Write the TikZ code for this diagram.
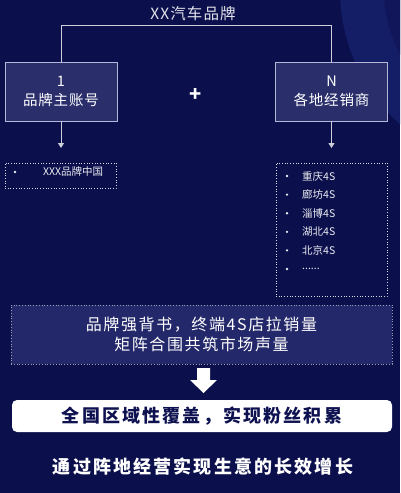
\documentclass[tikz,border=0pt]{standalone}
\usepackage{fontspec}
\setmainfont{Noto Sans CJK SC}
\usetikzlibrary{arrows.meta}
\definecolor{bg}{HTML}{0B0F4C}
\definecolor{band}{HTML}{141E66}
\definecolor{boxfill}{HTML}{2A2F6C}
\definecolor{bigfill}{HTML}{23286A}
\definecolor{edge}{HTML}{B4B8D6}
\definecolor{navytext}{HTML}{0E1250}
\newcommand{\myls}[1]{\addfontfeatures{LetterSpace=#1}}
\tikzset{
  headbox/.style={draw=edge, line width=0.8pt, fill=boxfill, text=white,
    minimum width=112pt, minimum height=59pt, inner sep=0pt, align=center,
    font=\fontsize{14.5}{19}\selectfont\myls{6}},
  listbox/.style={draw=white!85!bg, dotted, line width=0.7pt, inner sep=0pt},
  bigbox/.style={draw=white!60!bg, dotted, line width=0.8pt, fill=bigfill, text=white,
    minimum width=381pt, minimum height=59pt, inner sep=0pt, align=center,
    font=\fontsize{16}{20}\selectfont\myls{10}},
  connector/.style={draw=white!80!bg, line width=0.8pt},
  arrowline/.style={connector, -{Triangle[length=5pt,width=6pt]}},
  itemtext/.style={text=white!92!bg, anchor=west, inner sep=0pt, font=\fontsize{10.5}{12}\selectfont},
  bulletdot/.style={circle, fill=white!92!bg, inner sep=0pt, minimum size=2.6pt},
}
\begin{document}
\begin{tikzpicture}[x=1pt,y=-1pt]
\fill[bg] (0,0) rectangle (400,493);
\useasboundingbox (0,0) rectangle (400,493);
\begin{scope}
  \clip (0,0) rectangle (400,493);
  \fill[band] (520,-10) circle (180pt);
  \fill[bg!50!band] (520,-10) circle (136pt);
\end{scope}

% title and bracket
\node[text=white!88!bg, font=\fontsize{15.5}{18}\selectfont\myls{7}, inner sep=0pt] (title) at (193,14) {XX汽车品牌};
\node[headbox] (brand) at (61,91.5) {1\\品牌主账号};
\node[headbox] (dealer) at (331.5,91.5) {N\\各地经销商};
\coordinate (tl) at (61,25);
\coordinate (tr) at (331.5,25);
\draw[connector] (brand.north) -- (tl) -- (tr) -- (dealer.north);
\node[text=white, font=\bfseries\fontsize{20}{22}\selectfont, inner sep=0pt] (plus) at (196,95) {+};

% arrows down
\coordinate (a1) at (61,148);
\coordinate (a2) at (331.5,148);
\draw[arrowline] (brand.south) -- (a1);
\draw[arrowline] (dealer.south) -- (a2);

% lists
\node[listbox, minimum width=111pt, minimum height=25pt] (list1) at (60.5,175.5) {};
\node[bulletdot] (b1) at (15,172) {};
\node[itemtext] (t1) at (43,172) {XXX品牌中国};

\node[listbox, minimum width=111pt, minimum height=133pt] (list2) at (331.5,229.5) {};
\node[bulletdot] (c1) at (287,176) {};
\node[itemtext] (d1) at (302,176) {重庆4S};
\node[bulletdot] (c2) at (287,194.6) {};
\node[itemtext] (d2) at (302,194.6) {廊坊4S};
\node[bulletdot] (c3) at (287,213.2) {};
\node[itemtext] (d3) at (302,213.2) {淄博4S};
\node[bulletdot] (c4) at (287,231.8) {};
\node[itemtext] (d4) at (302,231.8) {湖北4S};
\node[bulletdot] (c5) at (287,250.4) {};
\node[itemtext] (d5) at (302,250.4) {北京4S};
\node[bulletdot] (c6) at (287,269) {};
\node[itemtext] (d6) at (302,269) {......};

% core box
\node[bigbox] (core) at (201.5,334.5) {品牌强背书，终端4S店拉销量\\矩阵合围共筑市场声量};

% big white arrow
\fill[white] (197,368) -- (210,368) -- (210,380) -- (217,380) -- (203.5,393) -- (190,380) -- (197,380) -- cycle;

% result box
\node[fill=white, rounded corners=5pt, minimum width=380pt, minimum height=32pt, inner sep=0pt,
  text=navytext, font=\bfseries\fontsize{18}{20}\selectfont\myls{12}] (cover) at (202,416) {全国区域性覆盖，实现粉丝积累};

% bottom text
\node[text=white, inner sep=0pt, font=\bfseries\fontsize{18}{20}\selectfont\myls{12}] (goal) at (203,467) {通过阵地经营实现生意的长效增长};
\end{tikzpicture}
\end{document}
